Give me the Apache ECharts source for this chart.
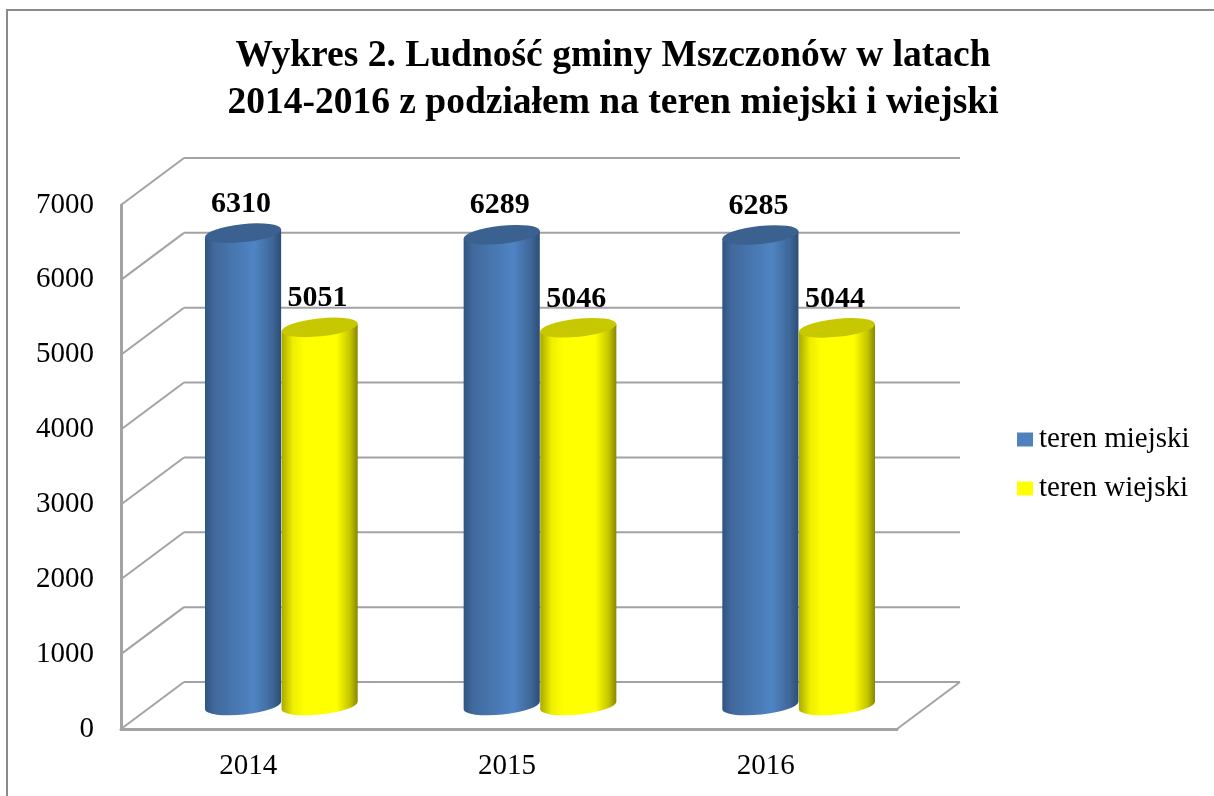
<!DOCTYPE html>
<html lang="pl">
<head>
    <meta charset="utf-8">
    <title>Wykres 2</title>
    <script src="https://cdn.jsdelivr.net/npm/echarts@6/dist/echarts.min.js"></script>
    <style type="text/css">
        html, body {
            width: 100%;
            height: 100%;
            margin: 0px;
            padding: 0px;
            background: #fff;
        }

        #main {
            width: 1214px;
            height: 796px;
        }
    </style>
</head>
<body>
<div id="main"></div>
<script>
    var titleText = 'Wykres 2. Ludność gminy Mszczonów w latach\n2014-2016 z podziałem na teren miejski i wiejski';
    var years = ['2014', '2015', '2016'];
    var miejski = [6310, 6289, 6285];
    var wiejski = [5051, 5046, 5044];
    var yTicks = [0, 1000, 2000, 3000, 4000, 5000, 6000, 7000];

    var fontName = '"Liberation Serif", "Times New Roman", serif';
    var lineColor = '#a3a3a3';
    // przesuniecie tylnej sciany wzgledem przedniej krawedzi osi
    var depthX = 63, depthY = -47;

    function wallItem(params, api) {
        var sys = params.coordSys;
        var y = api.coord([0, api.value(0)])[1];
        var x0 = sys.x, x1 = sys.x + sys.width;
        var children = [{
            type: 'line',
            shape: { x1: x0, y1: y, x2: x0 + depthX, y2: y + depthY },
            style: { stroke: lineColor, lineWidth: 2 }
        }, {
            type: 'line',
            shape: { x1: x0 + depthX, y1: y + depthY, x2: x1 + depthX, y2: y + depthY },
            style: { stroke: lineColor, lineWidth: 2 }
        }];
        if (api.value(0) === 0) {
            children.push({
                type: 'line',
                shape: { x1: x1, y1: y, x2: x1 + depthX, y2: y + depthY },
                style: { stroke: lineColor, lineWidth: 2 }
            });
        }
        return { type: 'group', children: children };
    }

    function cylinder(side, stops, topColor) {
        return function (params, api) {
            var p = api.coord([api.value(0), api.value(1)]);
            var base = api.coord([api.value(0), 0]);
            var w = api.size([1, 0])[0] * 0.296;
            var rx = w / 2, ry = 9, rot = -6;
            var cx = p[0] + depthX / 2 + side * w / 2 - 0.5;
            var topY = p[1] + depthY / 2;
            var botY = base[1] + depthY / 2;
            var ex = rx * Math.cos(rot * Math.PI / 180);
            var ey = rx * Math.sin(rot * Math.PI / 180);
            var arc = 'A' + rx + ' ' + ry + ' ' + rot + ' 0 ';
            var body = 'M' + (cx - ex) + ' ' + (topY - ey)
                + 'L' + (cx - ex) + ' ' + (botY - ey)
                + arc + '0 ' + (cx + ex) + ' ' + (botY + ey)
                + 'L' + (cx + ex) + ' ' + (topY + ey) + 'Z';
            var top = 'M' + (cx - ex) + ' ' + (topY - ey)
                + arc + '1 ' + (cx + ex) + ' ' + (topY + ey)
                + arc + '1 ' + (cx - ex) + ' ' + (topY - ey) + 'Z';
            return {
                type: 'group',
                children: [{
                    type: 'path',
                    shape: { pathData: body },
                    style: { fill: new echarts.graphic.LinearGradient(0, 0, 1, 0, stops) }
                }, {
                    type: 'path',
                    shape: { pathData: top },
                    style: { fill: topColor }
                }, {
                    type: 'text',
                    z2: 10,
                    style: {
                        x: cx - 2,
                        y: topY - 29,
                        text: String(api.value(1)),
                        fill: '#000',
                        font: 'bold 30px ' + fontName,
                        align: 'center',
                        verticalAlign: 'middle'
                    }
                }]
            };
        };
    }

    function pairs(values) {
        return values.map(function (v, i) { return [i, v]; });
    }

    var myChart = echarts.init(document.getElementById('main'));

    var option = {
        animation: false,
        backgroundColor: '#fff',
        title: {
            text: titleText,
            left: 608,
            top: 28,
            textAlign: 'center',
            textStyle: {
                fontFamily: fontName,
                fontWeight: 'bold',
                fontSize: 37.5,
                lineHeight: 47,
                color: '#000'
            }
        },
        legend: {
            orient: 'vertical',
            left: 1012,
            top: 420,
            itemWidth: 16,
            itemHeight: 14,
            itemGap: 20,
            icon: 'rect',
            data: ['teren miejski', 'teren wiejski'],
            textStyle: {
                fontFamily: fontName,
                fontSize: 29,
                color: '#000',
                padding: [0, 0, 0, 1]
            }
        },
        grid: {
            left: 121,
            right: 317,
            top: 205,
            bottom: 67
        },
        xAxis: {
            type: 'category',
            data: years,
            axisLine: { lineStyle: { color: lineColor, width: 3 } },
            axisTick: { show: false },
            axisLabel: {
                margin: 23,
                padding: [0, 4, 0, 0],
                fontFamily: fontName,
                fontSize: 29,
                color: '#000'
            }
        },
        yAxis: {
            type: 'value',
            min: 0,
            max: 7000,
            interval: 1000,
            splitLine: { show: false },
            axisLine: { show: true, lineStyle: { color: lineColor, width: 3 } },
            axisTick: { show: false },
            axisLabel: {
                margin: 27,
                formatter: function (v) { return String(v); },
                fontFamily: fontName,
                fontSize: 29,
                color: '#000'
            }
        },
        series: [{
            type: 'custom',
            silent: true,
            renderItem: wallItem,
            data: yTicks.map(function (v) { return [v]; }),
            encode: { y: 0 }
        }, {
            type: 'custom',
            name: 'teren miejski',
            itemStyle: { color: '#4f81bd' },
            renderItem: cylinder(-1, [
                { offset: 0, color: '#2f5480' },
                { offset: 0.12, color: '#41699c' },
                { offset: 0.65, color: '#4f84c4' },
                { offset: 0.88, color: '#3f6798' },
                { offset: 1, color: '#2b4d77' }
            ], '#3a6190'),
            data: pairs(miejski),
            encode: { x: 0, y: 1 }
        }, {
            type: 'custom',
            name: 'teren wiejski',
            itemStyle: { color: '#ffff00' },
            renderItem: cylinder(1, [
                { offset: 0, color: '#a8a800' },
                { offset: 0.15, color: '#eeee00' },
                { offset: 0.3, color: '#ffff00' },
                { offset: 0.72, color: '#ffff00' },
                { offset: 0.9, color: '#c4c400' },
                { offset: 1, color: '#858500' }
            ], '#c8c800'),
            data: pairs(wiejski),
            encode: { x: 0, y: 1 }
        }],
        graphic: [{
            type: 'rect',
            silent: true,
            shape: { x: 7, y: 10, width: 1240, height: 820 },
            style: { fill: 'none', stroke: '#8a8a8a', lineWidth: 2 }
        }]
    };

    myChart.setOption(option);
</script>
</body>
</html>
